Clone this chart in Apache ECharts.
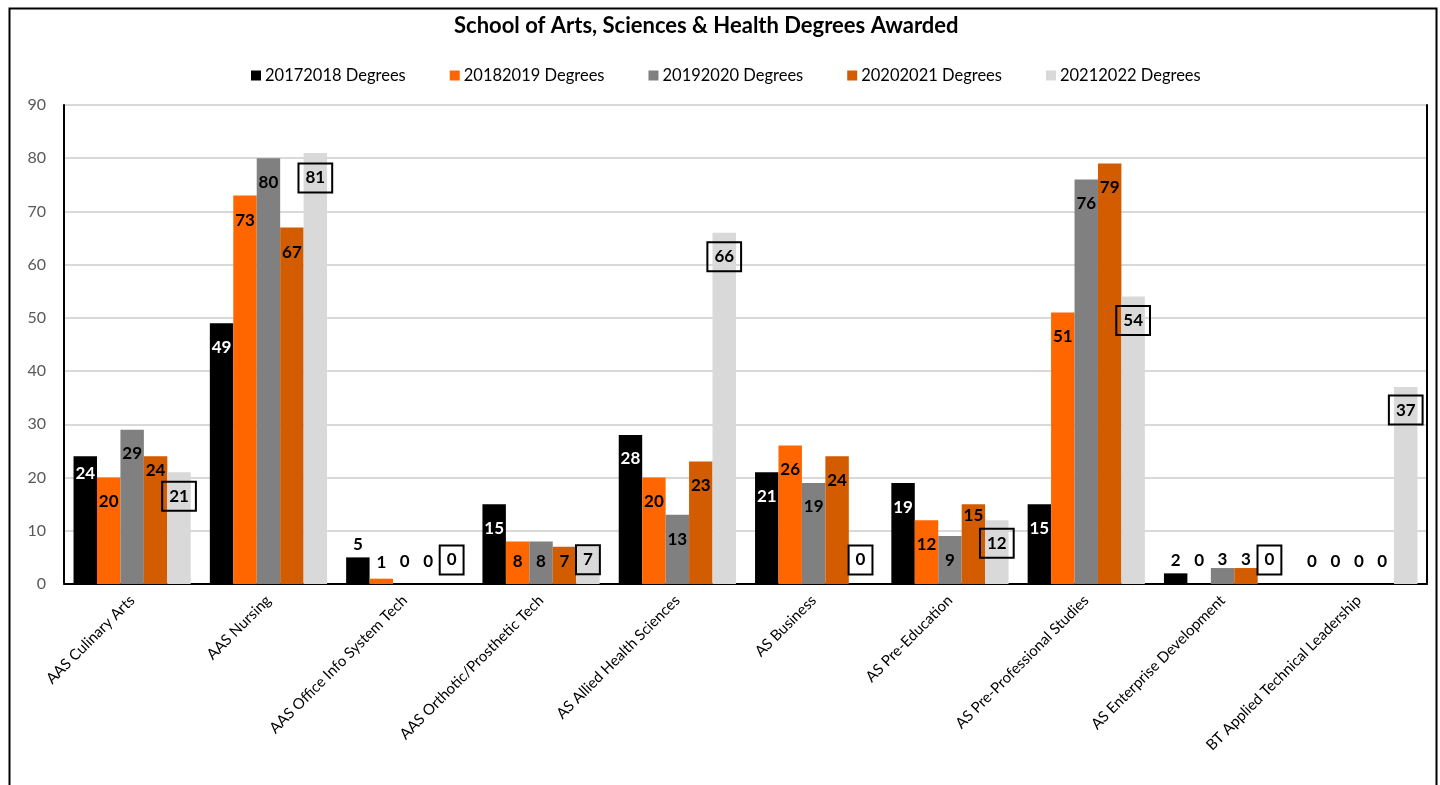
<!DOCTYPE html>
<html>
<head>
<meta charset="utf-8">
<title>School of Arts, Sciences & Health Degrees Awarded</title>
<script src="https://cdn.jsdelivr.net/npm/echarts@6/dist/echarts.min.js"></script>
<style>
  html, body { margin: 0; padding: 0; background: #fff; }
  #chart { width: 1440px; height: 785px; }
</style>
</head>
<body>
<div id="chart"></div>
<script>
// Programs (x-axis categories)
const categories = [
  'AAS Culinary Arts',
  'AAS Nursing',
  'AAS Office Info System Tech',
  'AAS Orthotic/Prosthetic Tech',
  'AS Allied Health Sciences',
  'AS Business',
  'AS Pre-Education',
  'AS Pre-Professional Studies',
  'AS Enterprise Development',
  'BT Applied Technical Leadership'
];

// Academic years (series names)
const seriesNames = [
  '20172018 Degrees',
  '20182019 Degrees',
  '20192020 Degrees',
  '20202021 Degrees',
  '20212022 Degrees'
];

// Degrees awarded per program, one array per year
const deg1718 = [24, 49, 5, 15, 28, 21, 19, 15, 2, 0];
const deg1819 = [20, 73, 1, 8, 20, 26, 12, 51, 0, 0];
const deg1920 = [29, 80, 0, 8, 13, 19, 9, 76, 3, 0];
const deg2021 = [24, 67, 0, 7, 23, 24, 15, 79, 3, 0];
const deg2122 = [21, 81, 0, 7, 66, 0, 12, 54, 0, 37];

// Value axis ticks
const yMin = 0;
const yMax = 90;
const yStep = 10;

// Layout: vertical position of each value label, in px from the top of its bar
// (negative = above the bar)
const labelDy = [
  [17, 24, -13, 24, 24, 24, 25, 24, -13, -22],
  [24, 25, -16, 20, 24, 24, 24, 24, -23, -22],
  [24, 24, -22, 20, 25, 24, 24, 24, -9, -22],
  [14, 25, -22, 15, 24, 24, 11, 24, -9, -22],
  [24, 25, -24, 13, 24, -24, 23, 24, -24, 23]
];

const colors = ['#000000', '#FF6600', '#808080', '#D35B00', '#D9D9D9'];
const FONT = 'Lato, "Open Sans", sans-serif';

const allValues = [deg1718, deg1819, deg1920, deg2021, deg2122];

function buildSeries(idx) {
  const vals = allValues[idx];
  const boxed = idx === 4;
  return {
    name: seriesNames[idx],
    type: 'bar',
    barGap: '0%',
    barCategoryGap: '14%',
    itemStyle: { color: colors[idx] },
    emphasis: { disabled: true },
    label: {
      show: true,
      formatter: p => String(p.value),
      fontFamily: FONT,
      fontWeight: 'bold',
      fontSize: 17,
      lineHeight: 17,
      color: '#000',
      align: 'center',
      verticalAlign: 'middle',
      ...(boxed ? {
        borderColor: '#000',
        borderWidth: 2,
        padding: [6, 7, 6, 7]
      } : {})
    },
    data: vals.map((v, i) => {
      const dy = labelDy[idx][i];
      const inside = dy > 0;
      return {
        value: v,
        label: {
          position: ['50%', dy],
          color: (idx === 0 && inside) ? '#fff' : '#000'
        }
      };
    })
  };
}

const chart = echarts.init(document.getElementById('chart'), null, { renderer: 'canvas' });

chart.setOption({
  animation: false,
  backgroundColor: '#fff',
  title: {
    text: 'School of Arts, Sciences & Health Degrees Awarded',
    left: 449,
    top: 10,
    textStyle: {
      fontFamily: FONT,
      fontWeight: 'bold',
      fontSize: 22,
      color: '#000'
    }
  },
  legend: {
    left: 246,
    top: 62,
    itemWidth: 10,
    itemHeight: 10,
    itemGap: 44,
    icon: 'rect',
    textStyle: { fontFamily: FONT, fontSize: 16.5, color: '#000', padding: [0, 0, 0, -1] },
    data: seriesNames
  },
  grid: {
    left: 64,
    right: 13,
    top: 105,
    bottom: 201,
    containLabel: false
  },
  graphic: [{
    type: 'rect',
    left: 7,
    top: 6,
    shape: { width: 1427, height: 900 },
    style: { fill: 'none', stroke: '#000', lineWidth: 2 },
    silent: true
  }],
  xAxis: [{
    type: 'category',
    data: categories,
    axisTick: { show: false },
    axisLine: { show: true, lineStyle: { color: '#BFBFBF', width: 2 } },
    axisLabel: {
      interval: 0,
      rotate: 45,
      margin: 14,
      fontFamily: FONT,
      fontSize: 15,
      color: '#000'
    }
  }, {
    type: 'category',
    data: categories,
    position: 'top',
    axisTick: { show: false },
    axisLabel: { show: false },
    axisLine: { show: true, lineStyle: { color: '#000', width: 2 } }
  }],
  yAxis: [{
    type: 'value',
    min: yMin,
    max: yMax,
    interval: yStep,
    axisLine: { show: true, lineStyle: { color: '#000', width: 2 } },
    axisTick: { show: false },
    axisLabel: {
      margin: 18,
      fontFamily: FONT,
      fontSize: 16,
      color: '#595959'
    },
    splitLine: { lineStyle: { color: '#D9D9D9', width: 2 } }
  }, {
    type: 'value',
    min: yMin,
    max: yMax,
    interval: yStep,
    position: 'right',
    axisLine: { show: true, lineStyle: { color: '#000', width: 2 } },
    axisTick: { show: false },
    axisLabel: { show: false },
    splitLine: { show: false }
  }],
  series: [0, 1, 2, 3, 4].map(buildSeries)
});
</script>
</body>
</html>
